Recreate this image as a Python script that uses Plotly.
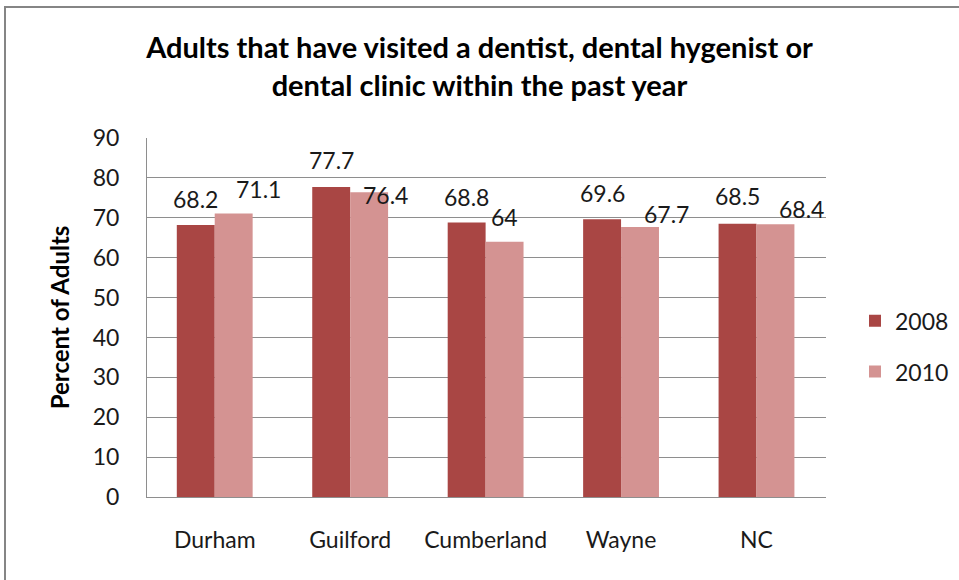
import plotly.graph_objects as go

# Survey results by county
counties = ["Durham", "Guilford", "Cumberland", "Wayne", "NC"]
pct_2008 = [68.2, 77.7, 68.8, 69.6, 68.5]
pct_2010 = [71.1, 76.4, 64.0, 67.7, 68.4]
series_names = ["2008", "2010"]
y_ticks = [0, 10, 20, 30, 40, 50, 60, 70, 80, 90]

# Styling
DARK = "#A94644"
LIGHT = "#D49392"
GRID = "#8E8E8E"
FONT = "Lato"
TXT = 23

# Pixel offsets for the value labels of each series (x shift, y gap above bar)
label_dx_2008 = [0, 0, 0, 0, 0]
label_dy_2008 = [10, 11, 10, 10, 12]
label_dx_2010 = [25, 16, 0, 26, 26]
label_dy_2010 = [8, -19, 9, -3, -1]

BAR_W = 19  # half of a bar's pixel width, used to centre labels on bars

fig = go.Figure()
fig.add_trace(go.Bar(x=counties, y=pct_2008, name=series_names[0],
                     marker=dict(color=DARK, line=dict(width=0)),
                     legendgroup="a"))
fig.add_trace(go.Bar(x=counties, y=pct_2010, name=series_names[1],
                     marker=dict(color=LIGHT, line=dict(width=0)),
                     legendgroup="b"))

annotations = []
for i, c in enumerate(counties):
    v = pct_2008[i]
    annotations.append(dict(x=c, y=v, xref="x", yref="y", text=f"{v:g}",
                            showarrow=False, xanchor="center", yanchor="bottom",
                            xshift=-BAR_W + label_dx_2008[i], yshift=label_dy_2008[i],
                            font=dict(family=FONT, size=TXT, color="#1a1a1a")))
    v = pct_2010[i]
    annotations.append(dict(x=c, y=v, xref="x", yref="y", text=f"{v:g}",
                            showarrow=False, xanchor="center", yanchor="bottom",
                            xshift=BAR_W + label_dx_2010[i], yshift=label_dy_2010[i],
                            font=dict(family=FONT, size=TXT, color="#1a1a1a")))

fig.update_layout(
    width=959, height=580,
    margin=dict(l=147, r=133, t=138, b=83, autoexpand=False),
    paper_bgcolor="white", plot_bgcolor="white",
    font=dict(family=FONT, size=TXT, color="#1a1a1a"),
    title=dict(
        text="Adults that have visited a dentist, dental hygenist or<br>dental clinic within the past year",
        x=0.5, xref="container", xanchor="center",
        y=1 - 58 / 580, yref="container", yanchor="top",
        font=dict(family=FONT, size=29, color="#000000", weight="bold"),
    ),
    barmode="group", bargap=0.44, bargroupgap=0,
    showlegend=True,
    legend=dict(x=(855 - 147) / 679, xanchor="left", y=0.42, yanchor="middle",
                traceorder="grouped", tracegroupgap=18,
                font=dict(family=FONT, size=TXT, color="#1a1a1a"),
                bgcolor="rgba(0,0,0,0)"),
    annotations=annotations,
    shapes=[dict(type="rect", xref="paper", yref="paper",
                 x0=(5 - 147) / 679, x1=1.4, y0=-0.4, y1=(497 - 7) / 359,
                 line=dict(color="#858585", width=2), fillcolor="rgba(0,0,0,0)",
                 layer="below")],
)

fig.update_xaxes(showline=True, linecolor=GRID, linewidth=1, showgrid=False,
                 ticks="outside", ticklen=22, tickcolor="rgba(0,0,0,0)",
                 tickfont=dict(family=FONT, size=TXT, color="#1a1a1a"))
fig.update_yaxes(range=[0, 90], tickvals=y_ticks, showline=True, linecolor=GRID,
                 linewidth=1, showgrid=True, gridcolor=GRID, gridwidth=1,
                 zeroline=False, ticks="outside", ticklen=22,
                 tickcolor="rgba(0,0,0,0)",
                 tickfont=dict(family=FONT, size=TXT, color="#1a1a1a"),
                 title=dict(text="<b>Percent of Adults</b>", standoff=16,
                            font=dict(family=FONT, size=24, color="#000000")))

fig.write_html("out.html")
